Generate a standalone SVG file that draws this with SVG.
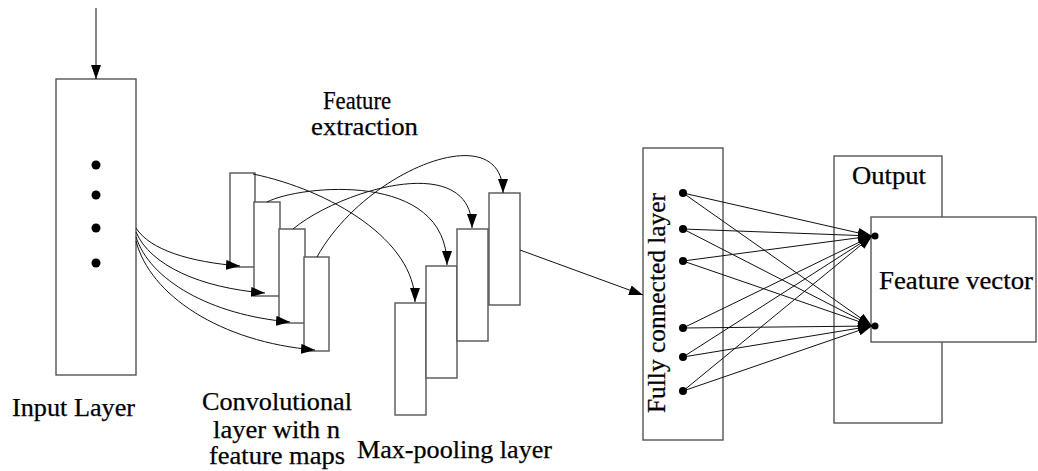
<svg xmlns="http://www.w3.org/2000/svg" width="1038" height="471" viewBox="0 0 1038 471">
  <defs>
    <marker id="arrow" viewBox="0 0 14 10" refX="14" refY="5" markerWidth="14" markerHeight="10" markerUnits="userSpaceOnUse" orient="auto">
      <path d="M0,0 L14,5 L0,10 Z" fill="#000"/>
    </marker>
    <style>
      .box { fill: #fff; stroke: #555; stroke-width: 1.4; }
      .edge { fill: none; stroke: #111; stroke-width: 1; marker-end: url(#arrow); }
      .dot { fill: #000; }
      .lbl { font-family: "Liberation Serif", "Times New Roman", serif; font-size: 25px; fill: #000; stroke: #000; stroke-width: 0.25; }
    </style>
  </defs>
  <rect width="1038" height="471" fill="#fff"/>

  <!-- input layer -->
  <g id="input-layer">
    <rect class="box" x="56" y="79" width="80" height="296"/>
    <circle class="dot" cx="96" cy="165" r="4.5"/>
    <circle class="dot" cx="96" cy="195" r="4.5"/>
    <circle class="dot" cx="96" cy="228" r="4.5"/>
    <circle class="dot" cx="96" cy="263" r="4.5"/>
    <text class="lbl" x="12" y="416" textLength="123" lengthAdjust="spacingAndGlyphs">Input Layer</text>
  </g>

  <!-- convolutional feature maps -->
  <g id="conv-layer">
    <rect class="box" x="230" y="173" width="25" height="94"/>
    <rect class="box" x="254" y="202" width="26" height="94"/>
    <rect class="box" x="279" y="229" width="26" height="94"/>
    <rect class="box" x="304" y="257" width="25" height="94"/>
    <text class="lbl" x="202" y="410" textLength="150" lengthAdjust="spacingAndGlyphs">Convolutional</text>
    <text class="lbl" x="213" y="438" textLength="127" lengthAdjust="spacingAndGlyphs">layer with n</text>
    <text class="lbl" x="209" y="464" textLength="136" lengthAdjust="spacingAndGlyphs">feature maps</text>
  </g>

  <!-- max-pooling maps -->
  <g id="pool-layer">
    <rect class="box" x="395" y="303" width="31" height="112"/>
    <rect class="box" x="426" y="266" width="31" height="112"/>
    <rect class="box" x="457" y="229" width="31" height="112"/>
    <rect class="box" x="489" y="193" width="31" height="112"/>
    <text class="lbl" x="357" y="458" textLength="195" lengthAdjust="spacingAndGlyphs">Max-pooling layer</text>
  </g>

  <g id="feature-extraction-label">
    <text class="lbl" x="323" y="109" textLength="68" lengthAdjust="spacingAndGlyphs">Feature</text>
    <text class="lbl" x="311" y="135" textLength="107" lengthAdjust="spacingAndGlyphs">extraction</text>
  </g>

  <!-- fully connected layer -->
  <g id="fc-layer">
    <rect class="box" x="643" y="148" width="80" height="292"/>
    <text class="lbl" transform="translate(665,413) rotate(-90)" x="0" y="0" textLength="220" lengthAdjust="spacingAndGlyphs">Fully connected layer</text>
  </g>

  <!-- output -->
  <g id="output">
    <rect class="box" x="834" y="156" width="108" height="267"/>
    <text class="lbl" x="852" y="184" textLength="74" lengthAdjust="spacingAndGlyphs">Output</text>
  </g>

  <g id="feature-vector">
    <rect class="box" x="871" y="217" width="165" height="125"/>
    <text class="lbl" x="879" y="289" textLength="154" lengthAdjust="spacingAndGlyphs">Feature vector</text>
  </g>

  <g id="connectors">
    <line class="edge" x1="96" y1="8" x2="96" y2="79"/>

    <!-- input to convolution maps -->
    <path class="edge" d="M136,228 C150,250 190,262 240,266"/>
    <path class="edge" d="M136,232 C150,265 200,288 265,293"/>
    <path class="edge" d="M136,237 C150,280 210,315 290,322"/>
    <path class="edge" d="M136,241 C150,295 220,342 315,350"/>

    <!-- convolution maps to pooling maps -->
    <path class="edge" d="M253,174 C330,190 415,240 415,302"/>
    <path class="edge" d="M267,202 C300,185 447,170 447,265"/>
    <path class="edge" d="M293,229 C340,190 472,150 472,228"/>
    <path class="edge" d="M317,257 C365,170 503,115 503,193"/>

    <!-- pooling to fully connected -->
    <line class="edge" x1="520" y1="250" x2="643" y2="295"/>

    <!-- fully connected to feature vector -->
    <line class="edge" x1="683" y1="193" x2="872" y2="236"/>
    <line class="edge" x1="683" y1="229" x2="872" y2="236"/>
    <line class="edge" x1="683" y1="261" x2="872" y2="236"/>
    <line class="edge" x1="683" y1="328" x2="872" y2="236"/>
    <line class="edge" x1="683" y1="357" x2="872" y2="236"/>
    <line class="edge" x1="683" y1="391" x2="872" y2="236"/>
    <line class="edge" x1="683" y1="193" x2="872" y2="326"/>
    <line class="edge" x1="683" y1="229" x2="872" y2="326"/>
    <line class="edge" x1="683" y1="261" x2="872" y2="326"/>
    <line class="edge" x1="683" y1="328" x2="872" y2="326"/>
    <line class="edge" x1="683" y1="357" x2="872" y2="326"/>
    <line class="edge" x1="683" y1="391" x2="872" y2="326"/>
  </g>

  <g id="fc-units">
    <circle class="dot" cx="683" cy="193" r="4"/>
    <circle class="dot" cx="683" cy="229" r="4"/>
    <circle class="dot" cx="683" cy="261" r="4"/>
    <circle class="dot" cx="683" cy="328" r="4"/>
    <circle class="dot" cx="683" cy="357" r="4"/>
    <circle class="dot" cx="683" cy="391" r="4"/>
  </g>
  <g id="vector-units">
    <circle class="dot" cx="875" cy="236" r="3.5"/>
    <circle class="dot" cx="875" cy="326" r="3.5"/>
  </g>
</svg>
